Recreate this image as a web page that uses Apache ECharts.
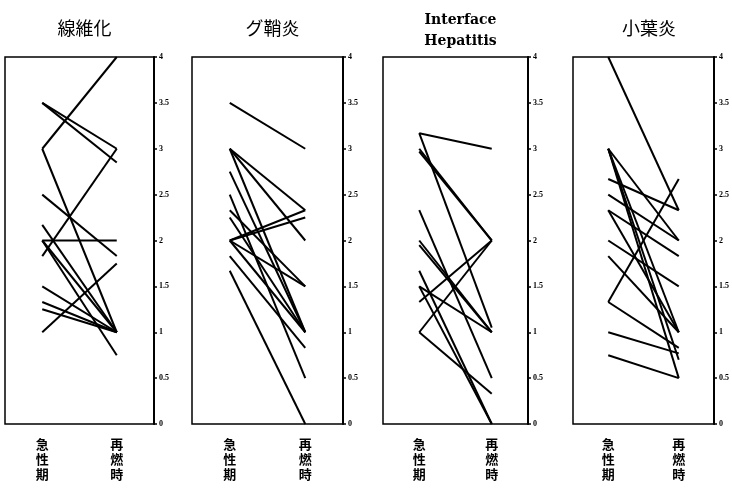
<!DOCTYPE html>
<html>
<head>
<meta charset="utf-8">
<script src="https://cdn.jsdelivr.net/npm/echarts@6/dist/echarts.min.js"></script>
<style>
  html, body { margin: 0; padding: 0; background: #fff; }
  #main { width: 732px; height: 488px; }
</style>
</head>
<body>
<div id="main"></div>
<script>
// 時期（縦書き）
var categories = ['急\n性\n期', '再\n燃\n時'];
var panelTitles = ['線維化', 'グ鞘炎', 'Interface\nHepatitis', '小葉炎'];
var yMin = 0, yMax = 4, yStep = 0.5;

// 線維化
var fibrosisAcute   = [3.5, 3.5, 3, 3, 1.83, 2.5, 2, 2.17, 2, 2, 1.5, 1.33, 1.25, 1];
var fibrosisRelapse = [3, 2.85, 4, 1, 3, 1.83, 2, 1, 1, 0.75, 1, 1, 1, 1.75];
// グ鞘炎
var sheathAcute   = [3.5, 3, 3, 3, 2.75, 2.5, 2.33, 2.25, 2, 2, 2, 2, 1.83, 1.67];
var sheathRelapse = [3, 2.33, 2, 1, 1, 0.5, 1.5, 1, 2.33, 2.25, 1.5, 1, 0.83, 0];
// Interface Hepatitis
var interfaceAcute   = [3.17, 3.17, 3, 2.97, 2.33, 2, 1.95, 1.67, 1.5, 1.5, 1.33, 1, 1];
var interfaceRelapse = [3, 1.05, 2, 2, 0.5, 1, 1, 0, 0, 1, 2, 2, 0.33];
// 小葉炎
var lobularAcute   = [4, 3, 3, 3, 3, 2.67, 2.5, 2.33, 2.33, 2, 1.83, 1.33, 1.33, 1, 0.75];
var lobularRelapse = [2.33, 2, 1, 0.7, 0.5, 2.33, 2, 1.83, 1, 1.5, 1, 2.67, 0.83, 0.77, 0.5];

var panelData = [
  [fibrosisAcute, fibrosisRelapse],
  [sheathAcute, sheathRelapse],
  [interfaceAcute, interfaceRelapse],
  [lobularAcute, lobularRelapse]
];

// パネル位置
var boxes = [
  { left: 5, width: 149 },
  { left: 192, width: 151 },
  { left: 383, width: 145 },
  { left: 573, width: 142 }
];
var boxTop = 57, boxHeight = 367;

var myChart = echarts.init(document.getElementById('main'));

var grid = [], xAxis = [], yAxis = [], title = [], series = [];
boxes.forEach(function (b, i) {
  grid.push({
    left: b.left, width: b.width, top: boxTop, height: boxHeight,
    show: true, borderColor: '#000', borderWidth: 1.5, backgroundColor: 'transparent'
  });
  xAxis.push({
    gridIndex: i, type: 'category', data: categories, boundaryGap: true,
    axisLine: { show: false }, axisTick: { show: false }, splitLine: { show: false },
    axisLabel: {
      interval: 0, margin: 13, color: '#000', fontSize: 13, fontWeight: 'bold',
      lineHeight: 15, fontFamily: 'Noto Sans CJK JP'
    }
  });
  yAxis.push({
    gridIndex: i, type: 'value', position: 'right', min: yMin, max: yMax, interval: yStep,
    axisLine: { show: true, lineStyle: { color: '#000', width: 2 } },
    axisTick: { show: true, length: 3, lineStyle: { color: '#000', width: 1.5 } },
    splitLine: { show: false },
    axisLabel: {
      margin: 5, color: '#000', fontSize: 8, fontWeight: 'bold',
      fontFamily: 'Liberation Serif'
    }
  });
  var isLatin = i === 2;
  title.push({
    text: panelTitles[i],
    left: b.left + b.width / 2,
    top: isLatin ? 5 : 14,
    textAlign: 'center',
    textStyle: isLatin
      ? { fontFamily: 'DejaVu Serif', fontSize: 14, fontWeight: 'bold', color: '#000', lineHeight: 21 }
      : { fontFamily: 'Noto Sans CJK JP', fontSize: 18, fontWeight: 'normal', color: '#000' }
  });
  var acute = panelData[i][0], relapse = panelData[i][1];
  acute.forEach(function (a, k) {
    series.push({
      type: 'line', xAxisIndex: i, yAxisIndex: i,
      data: [a, relapse[k]],
      symbol: 'none', silent: true,
      lineStyle: { color: '#000', width: 2 }
    });
  });
});

var option = {
  animation: false,
  backgroundColor: '#fff',
  title: title,
  grid: grid,
  xAxis: xAxis,
  yAxis: yAxis,
  series: series
};
myChart.setOption(option);
</script>
</body>
</html>
